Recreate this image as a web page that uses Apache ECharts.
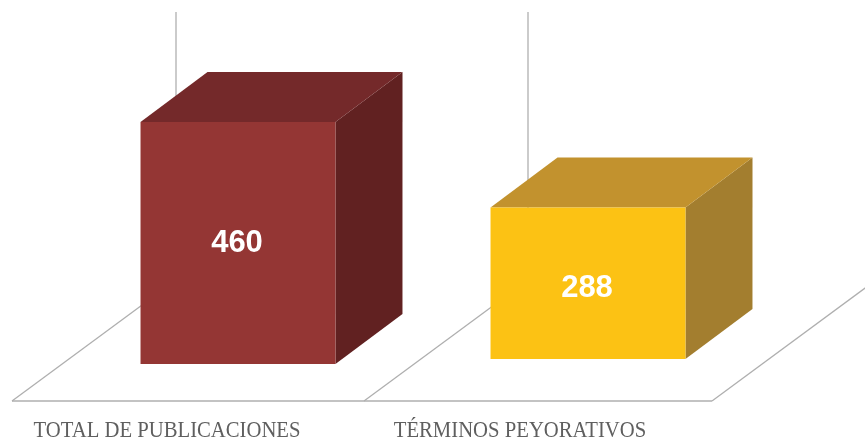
<!DOCTYPE html>
<html>
<head>
<meta charset="utf-8">
<script src="https://cdn.jsdelivr.net/npm/echarts@6/dist/echarts.min.js"></script>
<style>
html,body{margin:0;padding:0;background:#fff;}
#chart{width:865px;height:440px;}
</style>
</head>
<body>
<div id="chart"></div>
<script>
// ---- data ----
var categories = ['TOTAL DE PUBLICACIONES', 'TÉRMINOS PEYORATIVOS'];
var values = [460, 288];
var valueAxisMax = 500;

// ---- styling (not data) ----
var frontColors = ['#943634', '#fcc214'];
var topColors = ['#74292a', '#c2922e'];
var sideColors = ['#612121', '#a37e2f'];
var baseShift = [0, -5];          // slight perspective of the floor
var depthDX = 67, depthDY = -50;  // bar depth
var floorFront = 37;              // floor front edge below value-0 line
var floorDX = 164, floorDY = -121;

var chart = echarts.init(document.getElementById('chart'), null, {renderer: 'canvas'});

var seriesData = values.map(function (v, i) { return [i, v]; });

function renderFloor(params, api) {
  if (params.dataIndex !== 0) return null;
  var o0 = api.coord([0, 0]);
  var o1 = api.coord([1, 0]);
  var band = api.size([1, 0])[0];
  var yF = o0[1] + floorFront;
  var xs = [o0[0] - band / 2 - 51, o1[0] - band / 2 - 49, o1[0] + band / 2 - 51];
  var stroke = {stroke: '#afafaf', lineWidth: 1.3};
  var children = [];
  children.push({type: 'line', shape: {x1: xs[0], y1: yF, x2: xs[2], y2: yF}, style: stroke});
  xs.forEach(function (x) {
    children.push({type: 'line', shape: {x1: x, y1: yF, x2: x + floorDX, y2: yF + floorDY}, style: stroke});
  });
  [xs[0], xs[1]].forEach(function (x) {
    children.push({type: 'line', shape: {x1: x + floorDX, y1: yF + floorDY, x2: x + floorDX, y2: 12}, style: stroke});
  });
  // category labels
  [o0, o1].forEach(function (o, i) {
    children.push({
      type: 'text',
      x: o[0] - 71 + (i === 1 ? 3 : 0), y: yF + 30,
      scaleX: 0.9,
      style: {
        text: categories[i],
        fontFamily: '"Liberation Serif", "DejaVu Serif", serif',
        fontSize: 23,
        fill: '#5f5f5f',
        align: 'center',
        verticalAlign: 'middle'
      }
    });
  });
  return {type: 'group', children: children};
}

function renderBar(params, api) {
  var idx = api.value(0);
  var val = api.value(1);
  var p0 = api.coord([idx, 0]);
  var p1 = api.coord([idx, val]);
  var band = api.size([1, 0])[0];
  var w = band * 0.557;
  var x0 = p0[0] - w / 2, x1 = p0[0] + w / 2;
  var yB = p0[1] + baseShift[idx];
  var yT = p1[1] + baseShift[idx];
  return {
    type: 'group',
    children: [
      {type: 'polygon', shape: {points: [[x1, yT], [x1 + depthDX, yT + depthDY], [x1 + depthDX, yB + depthDY], [x1, yB]]},
        style: {fill: sideColors[idx]}},
      {type: 'polygon', shape: {points: [[x0, yT], [x0 + depthDX, yT + depthDY], [x1 + depthDX, yT + depthDY], [x1, yT]]},
        style: {fill: topColors[idx]}},
      {type: 'rect', shape: {x: x0, y: yT, width: w, height: yB - yT},
        style: {fill: frontColors[idx]}},
      {type: 'text', x: p0[0] - 1, y: (yT + yB) / 2 + (idx === 1 ? 5 : 0),
        style: {text: String(val), fontFamily: '"Liberation Sans", Arial, sans-serif', fontWeight: 'bold',
          fontSize: 31, fill: '#ffffff', align: 'center', verticalAlign: 'middle'}}
    ]
  };
}

chart.setOption({
  animation: false,
  backgroundColor: '#ffffff',
  grid: {left: 63, width: 700, top: 101, bottom: 76},
  xAxis: {type: 'category', data: categories, show: false},
  yAxis: {type: 'value', min: 0, max: valueAxisMax, show: false},
  series: [
    {type: 'custom', renderItem: renderFloor, data: seriesData, clip: false, z: 1, silent: true},
    {type: 'custom', renderItem: renderBar, data: seriesData, clip: false, z: 2}
  ]
});
</script>
</body>
</html>
